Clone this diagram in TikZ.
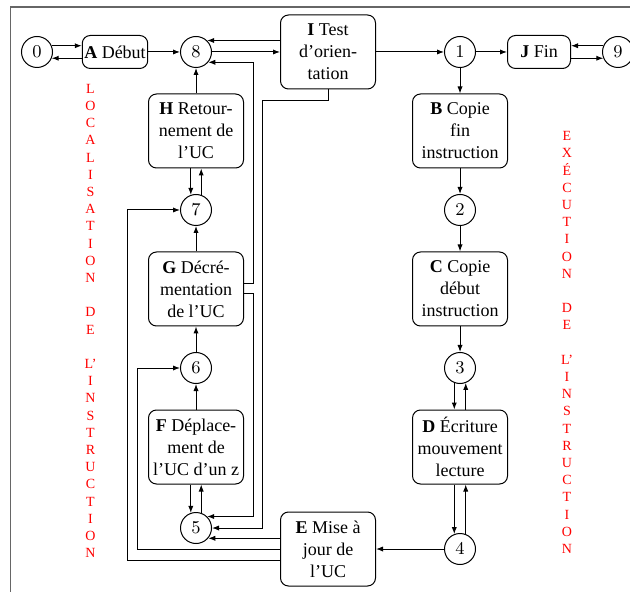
\documentclass[tikz,border=0pt]{standalone}
\usepackage{fontspec}
\setmainfont{Liberation Serif}
\usetikzlibrary{positioning, arrows.meta, calc}

\begin{document}
\begin{tikzpicture}[
    x=0.5pt, y=-0.5pt,
    font=\fontsize{9}{11}\selectfont,
    etat/.style={draw=black, circle, minimum size=15.5pt, inner sep=0pt, line width=0.5pt},
    tache/.style={draw=black, rectangle, rounded corners=4pt, minimum width=47.5pt, minimum height=37pt, inner sep=1pt, align=center, line width=0.5pt},
    court/.style={tache, minimum width=31.5pt, minimum height=16.5pt},
    pfeil/.style={line width=0.5pt, -{Latex[length=3.5pt, width=2.6pt]}},
    legende/.style={text=red, font=\fontsize{7}{8.6}\selectfont, align=center, inner sep=0pt},
    node distance=39.5pt, on grid
  ]

  % Rahmen
  \useasboundingbox (0,0) rectangle (630,592);
  \clip (0,0) rectangle (630,592);
  \draw[line width=0.7pt, black!60] (10.5,600) |- (640,7);

  % Zustaende oben
  \node[etat] (n0) at (37,52) {$0$};
  \node[court, right=39pt of n0] (A) {\textbf{A} Début};
  \node[etat, right=40.5pt of A] (n8) {$8$};
  \node[tache, right=66pt of n8] (I) {\textbf{I} Test\\d'orien-\\tation};
  \node[etat, right=66pt of I] (n1) {$1$};
  \node[court, right=39.5pt of n1] (J) {\textbf{J} Fin};
  \node[etat, right=39.5pt of J] (n9) {$9$};

  % linke Spalte
  \node[tache, below=of n8] (H) {\textbf{H} Retour-\\nement de\\l'UC};
  \node[etat, below=of H] (n7) {$7$};
  \node[tache, below=of n7] (G) {\textbf{G} Décré-\\mentation\\de l'UC};
  \node[etat, below=of G] (n6) {$6$};
  \node[tache, below=of n6] (F) {\textbf{F} Déplace-\\ment de\\l'UC d'un z};
  \node[etat, below=40.5pt of F] (n5) {$5$};

  % rechte Spalte
  \node[tache, below=of n1] (B) {\textbf{B} Copie\\fin\\instruction};
  \node[etat, below=of B] (n2) {$2$};
  \node[tache, below=of n2] (C) {\textbf{C} Copie\\début\\instruction};
  \node[etat, below=of C] (n3) {$3$};
  \node[tache, below=of n3] (D) {\textbf{D} Écriture\\mouvement\\lecture};
  \node[etat, below=51pt of D] (n4) {$4$};
  \node[tache] (E) at (I |- n4) {\textbf{E} Mise à\\jour de\\l'UC};

  % Beschriftung
  \node[legende] (loc) at (90.5,321) {L\\O\\C\\A\\L\\I\\S\\A\\T\\I\\O\\N\\[8.6pt]D\\E\\[8.6pt]L'\\I\\N\\S\\T\\R\\U\\C\\T\\I\\O\\N};
  \node[legende] (exe) at (567,342.5) {E\\X\\É\\C\\U\\T\\I\\O\\N\\[8.6pt]D\\E\\[8.6pt]L'\\I\\N\\S\\T\\R\\U\\C\\T\\I\\O\\N};

  % Uebergaenge oben
  \draw[pfeil] (n0.23) -- (n0.23 -| A.west);
  \draw[pfeil] (n0.-23 -| A.west) -- (n0.-23);
  \draw[pfeil] (A) -- (n8);
  \draw[pfeil] (I.west |- n8.46) -- (n8.46);
  \draw[pfeil] (n8) -- (I);
  \draw[pfeil] (I) -- (n1);
  \draw[pfeil] (n1) -- (J);
  \draw[pfeil] (n9.157) -- (n9.157 -| J.east);
  \draw[pfeil] (n9.-157 -| J.east) -- (n9.-157);

  % Uebergaenge links
  \draw[pfeil] (H) -- (n8);
  \draw[pfeil] (n7.109 |- H.south) -- (n7.109);
  \draw[pfeil] (n7.71) -- (n7.71 |- H.south);
  \draw[pfeil] (G) -- (n7);
  \draw[pfeil] (n6) -- (G);
  \draw[pfeil] (F) -- (n6);
  \draw[pfeil] (n5.109 |- F.south) -- (n5.109);
  \draw[pfeil] (n5.71) -- (n5.71 |- F.south);

  % Ruecksprung nach 8 und 5
  \draw[pfeil] ([yshift=2.5pt]G.east) -- ++(4.5pt,0) |- (n8.-40);
  \draw[pfeil] ([yshift=-2.5pt]G.east) -- ++(4.5pt,0) |- (n5.46);
  \draw[pfeil] (I.south) -- ++(0,-5.5pt) -- ++(-33pt,0) |- (n5.east);

  % Uebergaenge rechts
  \draw[pfeil] (n1) -- (B);
  \draw[pfeil] (B) -- (n2);
  \draw[pfeil] (n2) -- (C);
  \draw[pfeil] (C) -- (n3);
  \draw[pfeil] (n3.-111) -- (n3.-111 |- D.north);
  \draw[pfeil] (n3.-69 |- D.north) -- (n3.-69);
  \draw[pfeil] (n4.111 |- D.south) -- (n4.111);
  \draw[pfeil] (n4.69) -- (n4.69 |- D.south);

  % von E aus
  \draw[pfeil] (n4) -- (E);
  \draw[pfeil] (E.west |- n5.-40) -- (n5.-40);
  \draw[pfeil] (E.west) -- ++(-71.5pt,0) |- (n6.west);
  \draw[pfeil] ([yshift=-5.5pt]E.west) -- ++(-76.5pt,0) |- (n7.west);

\end{tikzpicture}
\end{document}
